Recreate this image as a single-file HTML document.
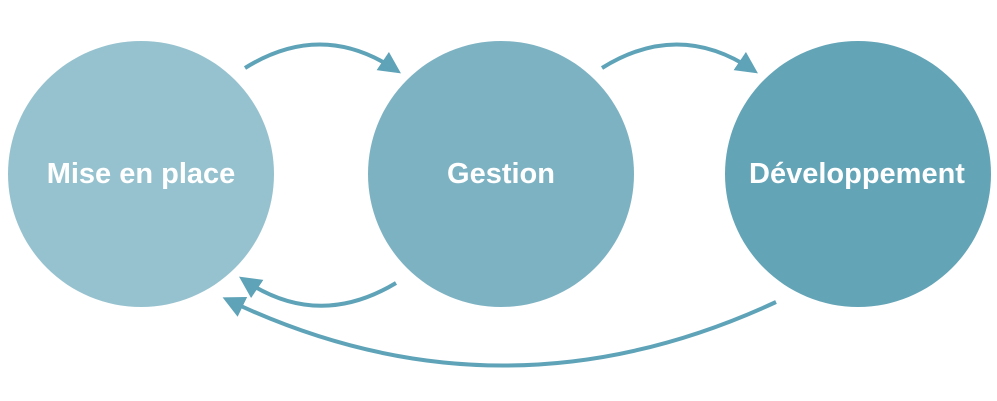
<!DOCTYPE html>
<html><head><style>
html,body{margin:0;padding:0;background:#fff;}
svg{display:block;}
text{font-family:"Liberation Sans",sans-serif;font-weight:bold;font-size:29px;fill:#fff;}
</style></head><body>
<svg width="997" height="401" viewBox="0 0 997 401">
<defs>
<marker id="a" markerWidth="5.5" markerHeight="5.5" refX="4" refY="2.75" orient="auto" markerUnits="strokeWidth">
<path d="M0,0 L5.5,2.75 L0,5.5 Z" fill="#5ea3b8"/>
</marker>
</defs>
<circle cx="141" cy="174" r="133" fill="#96c2cf"/>
<circle cx="501" cy="174" r="133" fill="#7db2c3"/>
<circle cx="858" cy="174" r="133" fill="#63a4b7"/>
<text x="141" y="183" text-anchor="middle">Mise en place</text>
<text x="501" y="183" text-anchor="middle">Gestion</text>
<text x="857" y="183" text-anchor="middle">Développement</text>
<g fill="none" stroke="#5ea3b8" stroke-width="4">
<path d="M245,68 Q322,20 396,70" marker-end="url(#a)"/>
<path d="M602,68 Q679,20 753,70" marker-end="url(#a)"/>
<path d="M396,283 Q318,330 244,280" marker-end="url(#a)"/>
<path d="M776,302 Q500,430 228,300" marker-end="url(#a)"/>
</g>
</svg>
</body></html>
